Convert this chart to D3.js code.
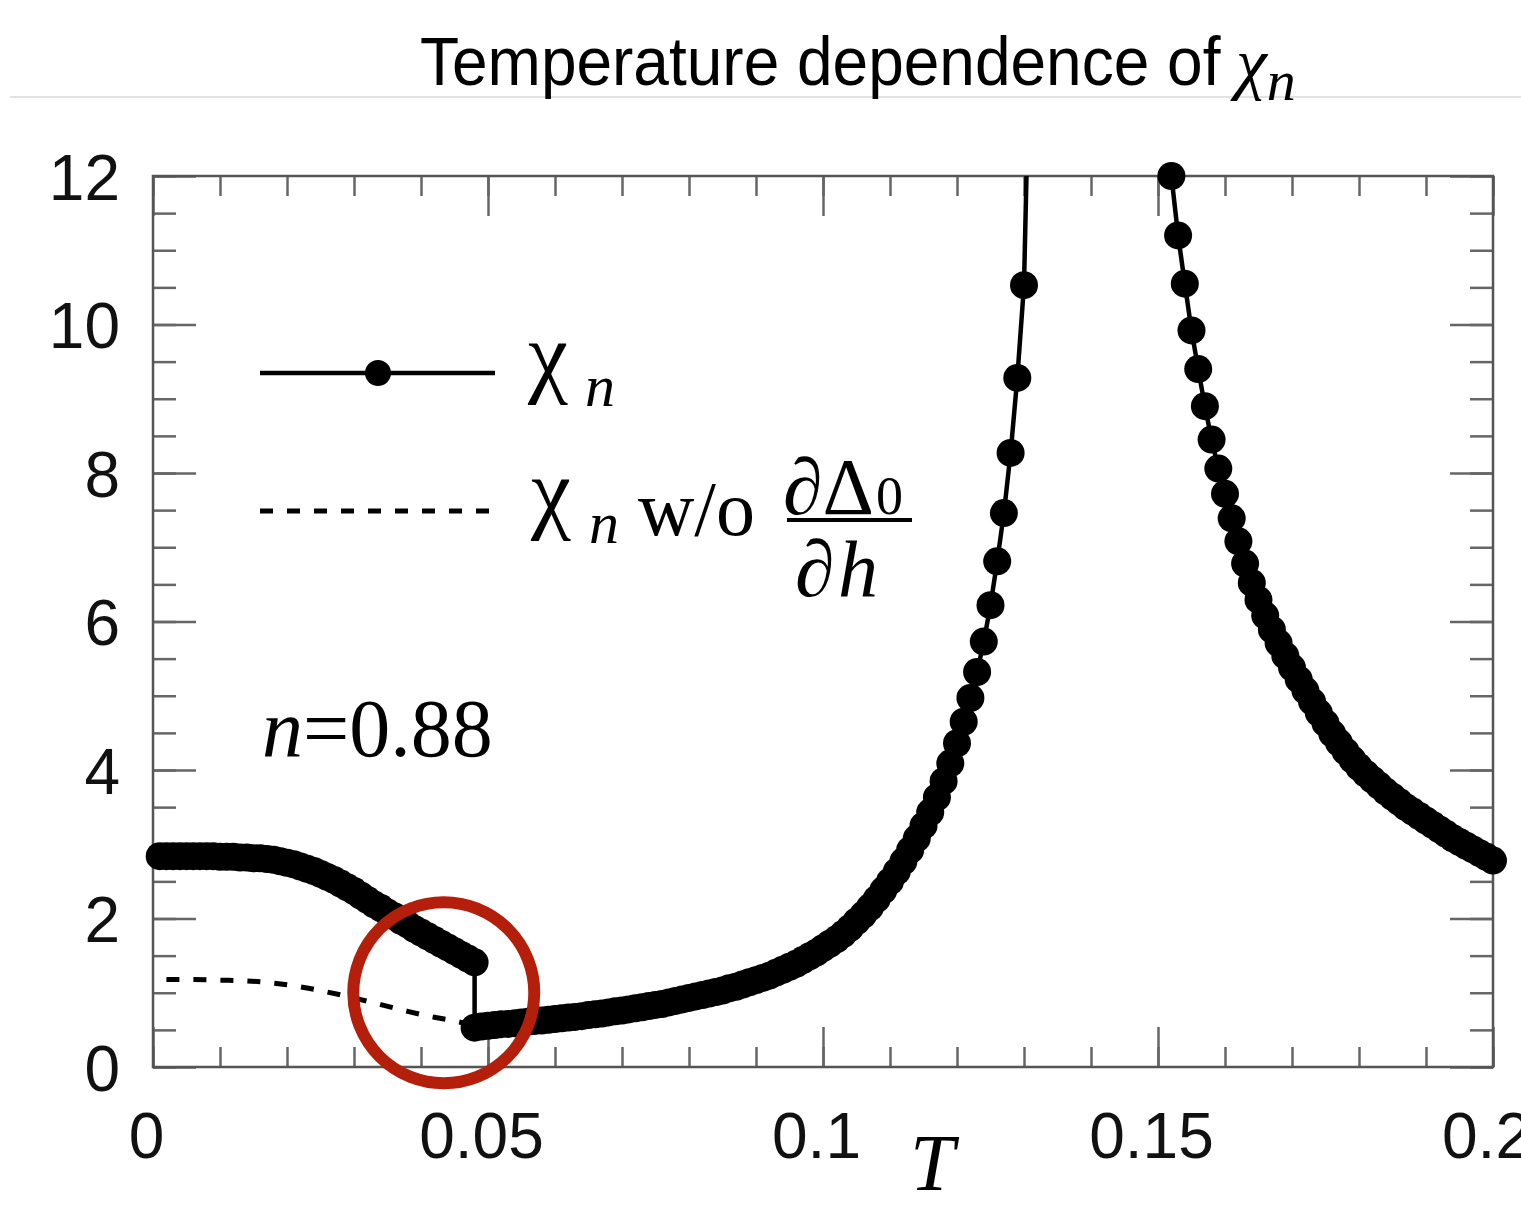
<!DOCTYPE html>
<html><head><meta charset="utf-8">
<script src="https://cdn.jsdelivr.net/npm/d3@7"></script>
<style>body{margin:0;background:#fff} svg{display:block}</style>
</head><body>
<svg id="c" width="1521" height="1206"></svg>
<script>
// ---- data ----
const xTickValues = [0, 0.05, 0.1, 0.15, 0.2];
const xTickLabels = ["0", "0.05", "0.1", "0.15", "0.2"];
const yTickValues = [0, 2, 4, 6, 8, 10, 12];
const yTickLabels = ["0", "2", "4", "6", "8", "10", "12"];
const xMinorTicks = [0,0.01,0.02,0.03,0.04,0.05,0.06,0.07,0.08,0.09,0.1,0.11,0.12,0.13,0.14,0.15,0.16,0.17,0.18,0.19,0.2];
const yMinorTicks = [0,0.5,1,1.5,2,2.5,3,3.5,4,4.5,5,5.5,6,6.5,7,7.5,8,8.5,9,9.5,10,10.5,11,11.5,12];

// chi_n (solid line with markers)
const chiT = [
 0.001,0.002,0.003,0.004,0.005,0.006,0.007,0.008,0.009,0.010,
 0.011,0.012,0.013,0.014,0.015,0.016,0.017,0.018,0.019,0.020,
 0.021,0.022,0.023,0.024,0.025,0.026,0.027,0.028,0.029,0.030,
 0.031,0.032,0.033,0.034,0.035,0.036,0.037,0.038,0.039,0.040,
 0.041,0.042,0.043,0.044,0.045,0.046,0.047,0.048,
 0.048,0.049,0.050,
 0.051,0.052,0.053,0.054,0.055,0.056,0.057,0.058,0.059,0.060,
 0.061,0.062,0.063,0.064,0.065,0.066,0.067,0.068,0.069,0.070,
 0.071,0.072,0.073,0.074,0.075,0.076,0.077,0.078,0.079,0.080,
 0.081,0.082,0.083,0.084,0.085,0.086,0.087,0.088,0.089,0.090,
 0.091,0.092,0.093,0.094,0.095,0.096,0.097,0.098,0.099,0.100,
 0.101,0.102,0.103,0.104,0.105,0.106,0.107,0.108,0.109,0.110,
 0.111,0.112,0.113,0.114,0.115,0.116,0.117,0.118,0.119,0.120,
 0.121,0.122,0.123,0.124,0.125,0.126,0.127,0.128,0.129,0.130,
 0.131,
 0.151,0.152,0.153,0.154,0.155,0.156,0.157,0.158,0.159,0.160,
 0.161,0.162,0.163,0.164,0.165,0.166,0.167,0.168,0.169,0.170,
 0.171,0.172,0.173,0.174,0.175,0.176,0.177,0.178,0.179,0.180,
 0.181,0.182,0.183,0.184,0.185,0.186,0.187,0.188,0.189,0.190,
 0.191,0.192,0.193,0.194,0.195,0.196,0.197,0.198,0.199,0.200
];
const chiV = [
 2.84,2.84,2.84,2.84,2.84,2.84,2.84,2.84,2.84,2.83,
 2.83,2.83,2.82,2.82,2.81,2.81,2.80,2.79,2.77,2.75,
 2.73,2.70,2.67,2.64,2.60,2.56,2.52,2.47,2.42,2.37,
 2.31,2.25,2.19,2.14,2.08,2.03,1.97,1.92,1.86,1.81,
 1.76,1.71,1.66,1.61,1.56,1.51,1.46,1.41,
 0.53,0.545,0.555,
 0.565,0.575,0.58,0.59,0.60,0.61,0.62,0.625,0.635,0.645,
 0.655,0.665,0.675,0.685,0.70,0.71,0.72,0.735,0.75,0.76,
 0.775,0.79,0.805,0.82,0.835,0.85,0.87,0.89,0.91,0.93,
 0.95,0.97,0.99,1.01,1.03,1.06,1.08,1.11,1.14,1.17,
 1.20,1.23,1.27,1.31,1.35,1.39,1.44,1.49,1.54,1.60,
 1.66,1.72,1.79,1.87,1.96,2.05,2.15,2.26,2.38,2.50,
 2.63,2.77,2.92,3.08,3.25,3.43,3.63,3.85,4.09,4.36,
 4.65,4.97,5.32,5.73,6.22,6.81,7.46,8.27,9.28,10.53,
 14.5,
 13.5,12.0,11.2,10.55,9.92,9.40,8.90,8.45,8.06,7.72,
 7.39,7.08,6.78,6.52,6.29,6.08,5.89,5.71,5.54,5.38,
 5.22,5.07,4.92,4.77,4.63,4.49,4.37,4.25,4.14,4.04,
 3.95,3.87,3.79,3.71,3.64,3.57,3.50,3.44,3.38,3.32,
 3.26,3.20,3.14,3.08,3.03,2.98,2.93,2.88,2.83,2.78
];

// chi_n without d(Delta0)/dh (dashed)
const dashT = [0.002,0.006,0.010,0.014,0.018,0.022,0.026,0.030,0.034,0.038,0.042,0.045,0.048];
const dashV = [1.18,1.18,1.17,1.16,1.13,1.08,1.01,0.93,0.84,0.75,0.67,0.62,0.56];

// ---- layout ----
const svg = d3.select("#c");
const L = 153, R = 1493, TOP = 176, B = 1067;
const x = d3.scaleLinear().domain([0, 0.2]).range([L, R]);
const y = d3.scaleLinear().domain([0, 12]).range([B, TOP]);
const sans = "'Liberation Sans', Arial, Helvetica, sans-serif";
const serif = "'Liberation Serif', 'Times New Roman', serif";
const tickCol = "#666";

svg.append("rect").attr("width",1521).attr("height",1206).attr("fill","#fff");

// title
svg.append("line").attr("x1",10).attr("x2",1521).attr("y1",97).attr("y2",97)
  .attr("stroke","#e2e2e2").attr("stroke-width",2);
svg.append("text").attr("transform","translate(420,85) scale(1,1.07)")
  .attr("font-family",sans).attr("font-size",64).attr("fill","#000")
  .text("Temperature dependence of");
const tchi = svg.append("text").attr("x",1236).attr("y",86).attr("font-family",serif)
  .attr("font-style","italic");
tchi.append("tspan").attr("font-size",70).text("χ");
tchi.append("tspan").attr("font-size",58).attr("dy",14).text("n");

// axes
function styleAxis(g){
  g.select(".domain").remove();
  g.selectAll(".tick line").attr("stroke",tickCol).attr("stroke-width",2.5);
  g.selectAll("text").attr("font-family",sans).attr("font-size",64).attr("fill","#111");
}
svg.append("g").attr("transform",`translate(0,${B})`)
  .call(d3.axisBottom(x).tickValues(xMinorTicks).tickSize(-20).tickFormat("")).call(styleAxis);
svg.append("g").attr("transform",`translate(0,${B})`)
  .call(d3.axisBottom(x).tickValues(xTickValues).tickSize(-40).tickPadding(46)
    .tickFormat((d,i)=>xTickLabels[i])).call(styleAxis)
  .call(g=>g.selectAll("text").attr("dx",-7));
svg.append("g").attr("transform",`translate(0,${TOP})`)
  .call(d3.axisTop(x).tickValues(xMinorTicks).tickSize(-20).tickFormat("")).call(styleAxis);
svg.append("g").attr("transform",`translate(0,${TOP})`)
  .call(d3.axisTop(x).tickValues(xTickValues).tickSize(-40).tickFormat("")).call(styleAxis);
svg.append("g").attr("transform",`translate(${L},0)`)
  .call(d3.axisLeft(y).tickValues(yMinorTicks).tickSize(-23).tickFormat("")).call(styleAxis);
svg.append("g").attr("transform",`translate(${L},0)`)
  .call(d3.axisLeft(y).tickValues(yTickValues).tickSize(-43).tickPadding(33)
    .tickFormat((d,i)=>yTickLabels[i])).call(styleAxis)
  .call(g=>g.selectAll("text").attr("dy","0.36em"));
svg.append("g").attr("transform",`translate(${R},0)`)
  .call(d3.axisRight(y).tickValues(yMinorTicks).tickSize(-23).tickFormat("")).call(styleAxis);
svg.append("g").attr("transform",`translate(${R},0)`)
  .call(d3.axisRight(y).tickValues(yTickValues).tickSize(-43).tickFormat("")).call(styleAxis);

svg.append("rect").attr("x",L).attr("y",TOP).attr("width",R-L).attr("height",B-TOP)
  .attr("fill","none").attr("stroke","#555").attr("stroke-width",2.5);

svg.append("text").attr("x",910).attr("y",1190).attr("font-family",serif)
  .attr("font-style","italic").attr("font-size",80).text("T");

// clip
svg.append("clipPath").attr("id","plotclip").append("rect")
  .attr("x",L).attr("y",TOP).attr("width",R-L).attr("height",B-TOP);

// data
const chiData = chiT.map((t,i)=>({t, v: chiV[i]}));
const dashData = dashT.map((t,i)=>({t, v: dashV[i]}));

svg.append("path").datum(dashData)
  .attr("clip-path","url(#plotclip)")
  .attr("d", d3.line().x(d=>x(d.t)).y(d=>y(d.v)).curve(d3.curveMonotoneX))
  .attr("fill","none").attr("stroke","#000").attr("stroke-width",5)
  .attr("stroke-dasharray","13,14");

svg.append("path").datum(chiData)
  .attr("clip-path","url(#plotclip)")
  .attr("d", d3.line().x(d=>x(d.t)).y(d=>y(d.v)))
  .attr("fill","none").attr("stroke","#000").attr("stroke-width",4.5);

svg.append("g").selectAll("circle").data(chiData.filter(d=>d.v <= 12.0001))
  .join("circle").attr("cx",d=>x(d.t)).attr("cy",d=>y(d.v)).attr("r",14).attr("fill","#000");

// legend
svg.append("line").attr("x1",260).attr("x2",495).attr("y1",373).attr("y2",373)
  .attr("stroke","#000").attr("stroke-width",4.5);
svg.append("circle").attr("cx",378).attr("cy",373).attr("r",13).attr("fill","#000");
const l1 = svg.append("text").attr("x",528).attr("y",386).attr("font-family",serif);
l1.append("tspan").attr("font-size",90).text("χ");
l1.append("tspan").attr("x",585).attr("y",406).attr("font-style","italic").attr("font-size",60).text("n");

svg.append("line").attr("x1",260).attr("x2",495).attr("y1",511).attr("y2",511)
  .attr("stroke","#000").attr("stroke-width",5).attr("stroke-dasharray","13,14");
const l2 = svg.append("text").attr("x",531).attr("y",522).attr("font-family",serif);
l2.append("tspan").attr("font-size",90).text("χ");
l2.append("tspan").attr("x",589).attr("y",543).attr("font-style","italic").attr("font-size",60).text("n");
l2.append("tspan").attr("x",638).attr("y",535).attr("font-size",78).text("w/o");
const num = svg.append("text").attr("x",783).attr("y",514).attr("font-family",serif).attr("font-size",80);
num.append("tspan").text("∂Δ");
num.append("tspan").attr("x",876).attr("font-size",54).text("0");
svg.append("line").attr("x1",787).attr("x2",912).attr("y1",520).attr("y2",520)
  .attr("stroke","#000").attr("stroke-width",4);
const den = svg.append("text").attr("x",795).attr("y",596).attr("font-family",serif).attr("font-size",80);
den.append("tspan").text("∂");
den.append("tspan").attr("x",838).attr("font-style","italic").text("h");

// n = 0.88
const nt = svg.append("text").attr("x",262).attr("y",756).attr("font-family",serif).attr("font-size",82);
nt.append("tspan").attr("font-style","italic").text("n");
nt.append("tspan").text("=0.88");

// red annotation circle
svg.append("circle").attr("cx",x(0.0434)).attr("cy",y(1.0)).attr("r",90.5)
  .attr("fill","none").attr("stroke","#b41f0c").attr("stroke-width",12);
</script>
</body></html>
